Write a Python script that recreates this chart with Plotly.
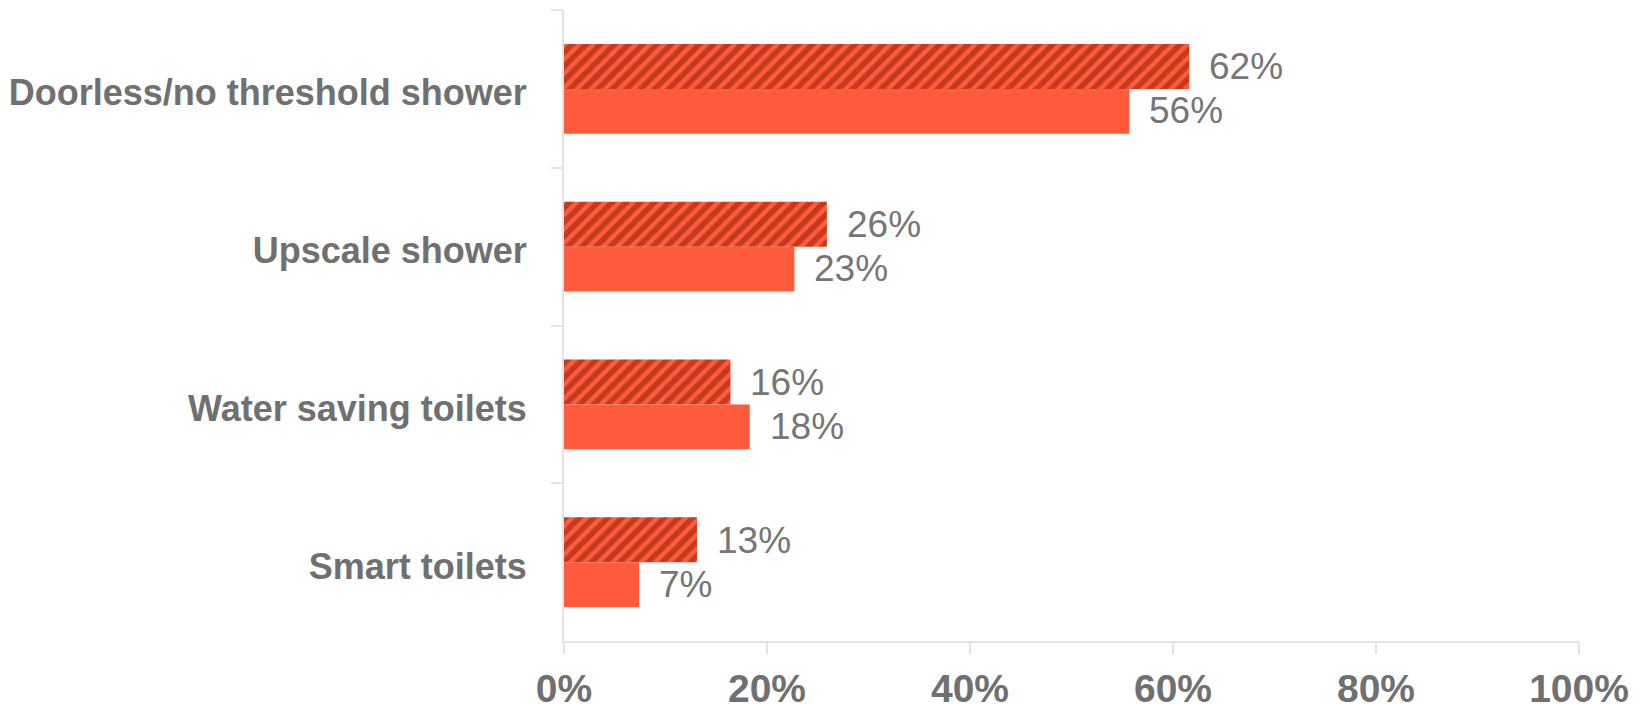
import plotly.graph_objects as go

categories = ["Doorless/no threshold shower", "Upscale shower", "Water saving toilets", "Smart toilets"]
series_hatched = [61.6, 25.9, 16.4, 13.1]
series_solid = [55.7, 22.7, 18.3, 7.4]
x_ticks = [0, 20, 40, 60, 80, 100]
x_tick_labels = ["0%", "20%", "40%", "60%", "80%", "100%"]

ORANGE = "#FF5A3C"
DARK = "#8A1A02"
GRAY = "#707070"
LINE = "#E3E3E3"

fig = go.Figure()
fig.add_trace(go.Bar(
    y=categories, x=series_hatched, orientation="h", name="hatched",
    marker=dict(color=ORANGE, line=dict(width=0),
                pattern=dict(shape="/", fgcolor=DARK, bgcolor=ORANGE, size=10, solidity=0.55)),
    hoverinfo="skip",
))
fig.add_trace(go.Bar(
    y=categories, x=series_solid, orientation="h", name="solid",
    marker=dict(color=ORANGE, line=dict(width=0)),
    hoverinfo="skip",
))

annotations = []
for cat, v in zip(categories, series_hatched):
    annotations.append(dict(x=v, y=cat, xref="x", yref="y", text=f"{round(v)}%", showarrow=False,
                            xanchor="left", yanchor="middle", xshift=18, yshift=22,
                            font=dict(family="Liberation Sans", size=37, color="#767676")))
for cat, v in zip(categories, series_solid):
    annotations.append(dict(x=v, y=cat, xref="x", yref="y", text=f"{round(v)}%", showarrow=False,
                            xanchor="left", yanchor="middle", xshift=18, yshift=-22,
                            font=dict(family="Liberation Sans", size=37, color="#767676")))

fig.update_layout(
    width=1635, height=696,
    margin=dict(l=556, r=64, t=2, b=63, autoexpand=False),
    paper_bgcolor="white", plot_bgcolor="white",
    barmode="group", bargap=0.43, bargroupgap=0,
    showlegend=False,
    annotations=annotations,
    xaxis=dict(range=[0, 100], tickvals=x_ticks, ticktext=x_tick_labels, automargin=False,
               showgrid=False, zeroline=False, showline=True, linecolor=LINE, linewidth=2,
               ticks="outside", ticklen=11, tickwidth=1.5, tickcolor=LINE,
               tickfont=dict(family="Liberation Sans", size=39, color=GRAY, weight="bold"),
               ticklabelstandoff=1),
    yaxis=dict(categoryorder="array", categoryarray=categories, autorange="reversed", automargin=False,
               showgrid=False, zeroline=False, showline=True, linecolor=LINE, linewidth=2,
               ticks="outside", ticklen=11, tickwidth=1.5, tickcolor=LINE, tickson="boundaries",
               tickfont=dict(family="Liberation Sans", size=36, color=GRAY, weight="bold"),
               ticklabelstandoff=28, ticklabelshift=-4),
)

fig.write_html("out.html")
